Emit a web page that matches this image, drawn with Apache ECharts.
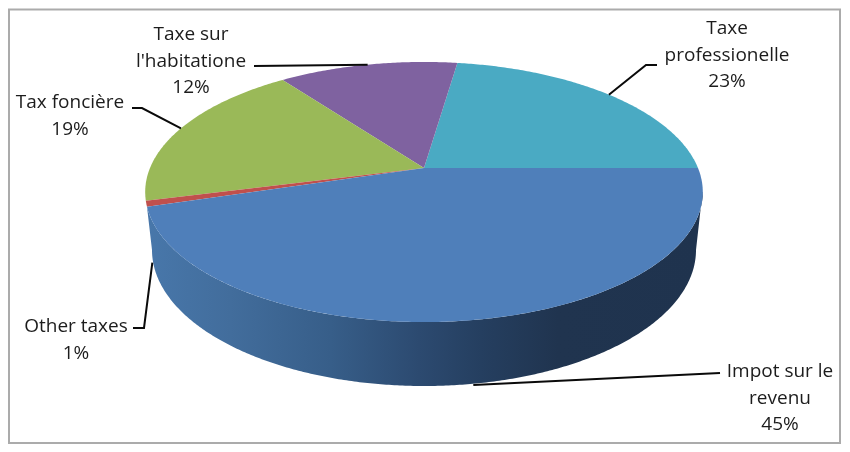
<!DOCTYPE html>
<html>
<head>
<meta charset="utf-8">
<style>html,body{margin:0;padding:0;background:#fff}#c{width:850px;height:452px}</style>
<script src="https://cdn.jsdelivr.net/npm/echarts@6/dist/echarts.min.js"></script>
</head>
<body>
<div id="c"></div>
<script>
// Data, counter-clockwise from the east of the pie
const categories = ['Taxe\nprofessionelle', 'Taxe sur\nl\'habitatione', 'Tax foncière', 'Other taxes', 'Impot sur le\nrevenu'];
const values = [22.7, 12.4, 18.9, 0.7, 45.3];
const percentLabels = ['23%', '12%', '19%', '1%', '45%'];
const colors = ['#4aaac3', '#7f62a0', '#9ab958', '#c0504d', '#4f7fba'];

// Layout
const apex = {x: 424, y: 168};       // where the slices meet
const persp = {A: 274, a: 94.6, k: -0.1846};
const topFace = {cx: 424, cy: 192, rx: 278.5, ry: 130};
const bottomFace = {cx: 424, cy: 250, rx: 272, ry: 136};
const labelCenters = [[727, 29], [191, 35], [70, 103], [76, 327], [780, 372]];
const lineHeight = 26.5;
const leaders = [
  {dx: 0, drop: 0, via: [[646, 65], [657, 65]]},
  {dx: 0, drop: 0, via: [[254, 66]]},
  {dx: 0, drop: 0, via: [[142, 108], [132, 108]]},
  {dx: 6, drop: 59, via: [[144, 328], [133, 328]]},
  {dx: 0, drop: 65, via: [[720, 373]]}
];

const total = values.reduce((s, v) => s + v, 0);
let acc = 0;
const rows = values.map((v, i) => {
  const start = acc / total * Math.PI * 2;
  acc += v;
  return [v, start, acc / total * Math.PI * 2, i];
});

function rim(t) {
  const u = Math.cos(t), v = -Math.sin(t);
  const w = 1 + persp.k * v;
  return [apex.x + persp.A * u / w, (persp.a * v + apex.y) / w];
}
function ell(e, t) { return [e.cx + e.rx * Math.cos(t), e.cy + e.ry * Math.sin(t)]; }

function renderItem(params, api) {
  const i = api.value(3), a0 = api.value(1), a1 = api.value(2);
  const children = [];
  if (i === values.length - 1) {
    // the outer wall of the front slice
    const wall = [];
    for (let t = a0; t <= Math.PI * 2; t += 0.01) {
      const p = rim(t);
      if (p[1] > topFace.cy) wall.push(p);
    }
    wall.push(ell(topFace, 0));
    for (let t = 0; t <= Math.PI; t += 0.01) wall.push(ell(bottomFace, t));
    wall.push(ell(bottomFace, Math.PI));
    children.push({
      type: 'polygon', shape: {points: wall},
      style: {fill: new echarts.graphic.LinearGradient(0, 0, 1, 0, [
        {offset: 0, color: '#4877aa'}, {offset: 0.15, color: '#426d9c'},
        {offset: 0.33, color: '#375e89'}, {offset: 0.49, color: '#2c4a70'},
        {offset: 0.6, color: '#253f60'}, {offset: 0.74, color: '#20344f'},
        {offset: 1, color: '#1f334e'}
      ])}
    });
  }
  const poly = [[apex.x, apex.y]];
  const steps = Math.max(4, Math.ceil((a1 - a0) / 0.01));
  for (let s = 0; s <= steps; s++) poly.push(rim(a0 + (a1 - a0) * s / steps));
  children.push({type: 'polygon', shape: {points: poly}, style: {fill: colors[i]}});

  // leader line, from the slice's middle to its label
  const mid = rim((a0 + a1) / 2);
  const ld = leaders[i];
  const line = [[mid[0] + ld.dx, mid[1] + ld.drop]].concat(ld.via);
  children.push({type: 'polyline', z2: 5, shape: {points: line},
    style: {stroke: '#0a0a0a', lineWidth: 2, fill: null}});

  // label
  const lines = categories[i].split('\n').concat(percentLabels[i]);
  lines.forEach((txt, n) => children.push({
    type: 'text', z2: 6, x: labelCenters[i][0], y: labelCenters[i][1] + n * lineHeight,
    style: {text: txt, fill: '#1c1c1c', font: '19px "Open Sans"', align: 'center', verticalAlign: 'middle'}
  }));
  return {type: 'group', children};
}

const chart = echarts.init(document.getElementById('c'), null, {renderer: 'canvas'});
chart.setOption({
  animation: false,
  backgroundColor: '#ffffff',
  graphic: [{
    type: 'rect', shape: {x: 9, y: 9.5, width: 831, height: 433.5},
    style: {fill: null, stroke: '#ababab', lineWidth: 2}, silent: true
  }],
  series: [{
    type: 'custom',
    coordinateSystem: 'none',
    renderItem,
    silent: true,
    data: rows
  }]
});
</script>
</body>
</html>
